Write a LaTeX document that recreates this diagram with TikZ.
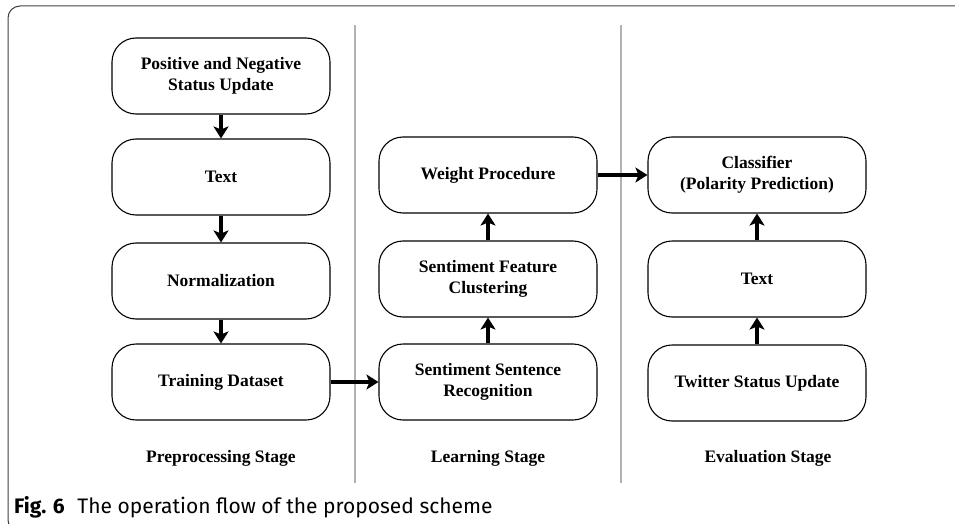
\documentclass[tikz,border=0pt]{standalone}
\usepackage{fontspec}
\setmainfont{Liberation Serif}
\newfontfamily\capfont{Fira Sans}
\usetikzlibrary{arrows.meta}

\begin{document}
\begin{tikzpicture}[x=1pt,y=-1pt,
  step box/.style={rectangle,rounded corners=24pt,draw,line width=1.1pt,minimum width=218pt,minimum height=76pt,align=center,font=\bfseries\fontsize{17.5}{21}\selectfont},
  stage label/.style={font=\bfseries\fontsize{17.5}{21}\selectfont},
  flow/.style={line width=4.5pt,-{Stealth[length=12pt,width=15pt,inset=3pt]}}]

  \useasboundingbox (0,0) rectangle (955,524);
  \clip (0,0) rectangle (955,524);

  % frame and stage separators
  \draw[line width=1pt,black!75,rounded corners=12pt] (24,532) -- (8,532) -- (8,6) -- (960,6);
  \draw[gray!60,line width=1.5pt] (355,25) -- (355,483);
  \draw[gray!60,line width=1.5pt] (621,25) -- (621,483);

  \node[step box] (status) at (221,76) {Positive and Negative\\Status Update};
  \node[step box] (text1) at (221,177) {Text};
  \node[step box] (norm) at (221,281) {Normalization};
  \node[step box] (train) at (221,382) {Training Dataset};

  \node[step box] (weight) at (488,175) {Weight Procedure};
  \node[step box] (cluster) at (488,279) {Sentiment Feature\\Clustering};
  \node[step box] (recog) at (488,382) {Sentiment Sentence\\Recognition};

  \node[step box] (classifier) at (757,175) {Classifier\\(Polarity Prediction)};
  \node[step box] (text2) at (757,279) {Text};
  \node[step box] (twitter) at (757,383) {Twitter Status Update};

  \node[stage label] (pre) at (221,458) {Preprocessing Stage};
  \node[stage label] (learn) at (488,458) {Learning Stage};
  \node[stage label] (eval) at (768,458) {Evaluation Stage};

  \path[flow]
    (status) edge (text1)
    (text1) edge (norm)
    (norm) edge (train)
    (train) edge (recog)
    (recog) edge (cluster)
    (cluster) edge (weight)
    (weight) edge (classifier)
    (twitter) edge (text2)
    (text2) edge (classifier);

  \node[anchor=base west,inner sep=0pt,font=\capfont\fontsize{21}{25}\selectfont] (caption) at (14,513)
    {\textbf{Fig. 6}\hspace{0.6em}The operation flow of the proposed scheme};
\end{tikzpicture}
\end{document}
